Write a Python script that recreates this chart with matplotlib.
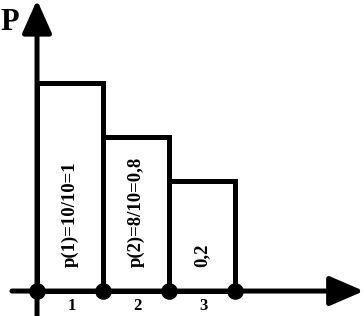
import matplotlib
matplotlib.use("Agg")
import matplotlib.pyplot as plt

# Data (schematic heights)
categories = ["1", "2", "3"]
heights = [1.0, 0.74, 0.53]
bar_texts = ["p(1)=10/10=1", "p(2)=8/10=0,8", "0,2"]
node_x = [0, 1, 2, 3]

plt.rcParams['font.family'] = ['Liberation Serif', 'DejaVu Serif']
plt.rcParams['font.weight'] = 'bold'

fig = plt.figure(figsize=(3.64, 3.16), dpi=100)
ax = fig.add_axes([0, 0, 1, 1])
ax.set_xlim(-0.561, 4.955)
ax.set_ylim(-0.120, 1.399)
ax.axis('off')

lw = 3.6

# Axes arrows
ax.annotate('', xy=(-0.561 + 364 / 66, 0), xytext=(-0.38, 0),
            arrowprops=dict(arrowstyle='-|>,head_length=0.58,head_width=0.25',
                            mutation_scale=36, lw=lw, color='black',
                            shrinkA=0, shrinkB=0))
ax.annotate('', xy=(0, 1.399), xytext=(0, -0.120),
            arrowprops=dict(arrowstyle='-|>,head_length=0.56,head_width=0.25',
                            mutation_scale=36, lw=lw, color='black',
                            shrinkA=0, shrinkB=0))

# Bars
lefts = list(range(len(categories)))
ax.bar(lefts, heights, width=1, align='edge', fill=False,
       edgecolor='black', linewidth=lw, zorder=3)

# Nodes on the axis
ax.scatter(node_x, [0] * len(node_x), s=120, color='black', zorder=5,
           clip_on=False)

# Rotated texts inside bars
for i, t in enumerate(bar_texts):
    ax.text(i + 0.5, 0.115, t, rotation=90, ha='center', va='bottom',
            fontsize=13.5, fontweight='bold')

# Category labels under axis
for i, c in enumerate(categories):
    ax.text(i + 0.52, -0.072, c, ha='center', va='center',
            fontsize=12, fontweight='bold')

ax.text(-0.41, 1.29, "P", ha='center', va='center', fontsize=22,
        fontweight='bold')

fig.savefig("out.png", dpi=100)
